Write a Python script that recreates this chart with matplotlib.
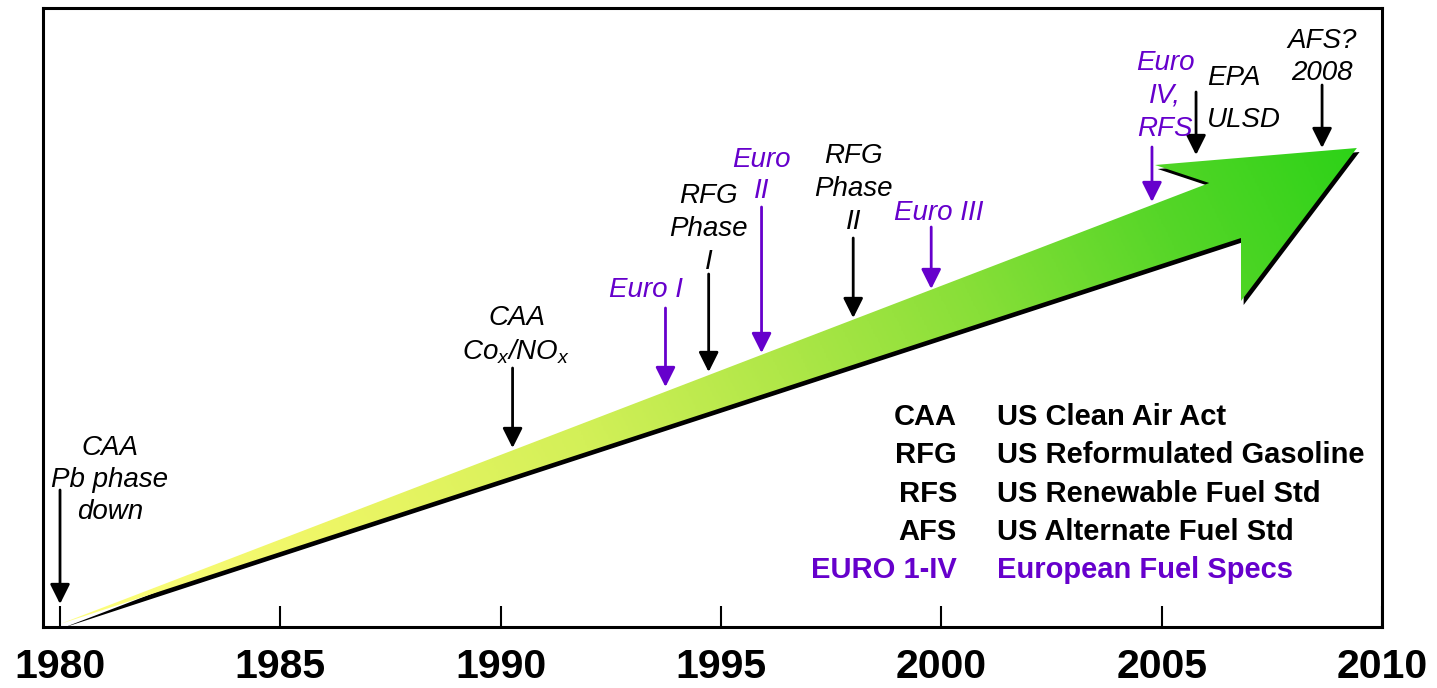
import numpy as np
import matplotlib.pyplot as plt
from matplotlib.colors import LinearSegmentedColormap
from matplotlib.patches import Polygon

plt.rcParams['font.family'] = ['Liberation Sans', 'DejaVu Sans']
plt.rcParams['mathtext.fontset'] = 'custom'
plt.rcParams['mathtext.rm'] = 'Liberation Sans:italic'
plt.rcParams['mathtext.it'] = 'Liberation Sans:italic'

PURPLE = '#6600cc'

# years on the axis
years = [1980, 1985, 1990, 1995, 2000, 2005, 2010]

# regulation events along the timeline
event_years = [1980.0, 1990.27, 1993.74, 1994.72, 1995.92, 1998.0, 1999.77, 2004.78, 2005.78, 2008.64]
event_labels = [['CAA', 'Pb phase', 'down'], ['CAA', 'Co$_x$/NO$_x$'], ['Euro I'],
                ['RFG', 'Phase', 'I'], ['Euro', 'II'], ['RFG', 'Phase', 'II'],
                ['Euro III'], ['Euro', 'IV,', 'RFS'], ['EPA', 'ULSD'], ['AFS?', '2008']]
event_is_euro = [False, False, True, False, True, False, True, True, False, False]

# abbreviations box
abbrevs = ['CAA', 'RFG', 'RFS', 'AFS', 'EURO 1-IV']
meanings = ['US Clean Air Act', 'US Reformulated Gasoline', 'US Renewable Fuel Std',
            'US Alternate Fuel Std', 'European Fuel Specs']

# outline of the big green arrow (year, height)
arrow_x = [1980.0, 2006.08, 2004.85, 2009.43, 2006.80, 2006.80]
arrow_y = [3, 444, 462, 479, 326, 389]

# layout of the small arrows and their labels
arrow_top = [137, 259, 319, 353, 420, 389, 400, 480, 535, 542]
arrow_tip = [23, 179, 240, 255, 274, 309, 338, 425, 472, 479]
label_x = [1981.13, 1990.36, 1993.29, 1994.72, 1995.92, 1998.0, 1999.95, 2005.08, 2006.03, 2008.64]
label_y = [172, 302, 330, 424, 460, 464, 407, 557, 542, 579]
line_gap = [32, 35, 0, 33, 31, 33, 0, 33, 42, 32]
label_ha = ['center'] * 8 + ['left', 'center']

fig = plt.figure(figsize=(14.37, 6.88), dpi=100)
ax = fig.add_axes([43 / 1437, 61 / 688, (1382 - 43) / 1437, (627 - 8) / 688])

# shadow then gradient arrow
pts = np.column_stack([arrow_x, arrow_y])
shadow = Polygon(pts + np.array([0.06, -4]), closed=True, facecolor='black', edgecolor='none', zorder=1)
ax.add_patch(shadow)
body = Polygon(pts, closed=True, facecolor='none', edgecolor='none', zorder=2)
ax.add_patch(body)

cmap = LinearSegmentedColormap.from_list('fuel', [
    (0.0, '#ffff80'), (0.2, '#eef666'), (0.4, '#d3f058'), (0.55, '#b0e748'),
    (0.7, '#88df38'), (0.85, '#56d628'), (1.0, '#2dd218')])
gx = np.linspace(1980, 2009.6, 600)
gy = np.linspace(0, 490, 300)
GX, GY = np.meshgrid(gx, gy)
t = ((GX - 1980) * 44.07 + 0.5 * GY) / (1298 + 0.5 * 479)
img = ax.imshow(t, extent=(1980, 2009.6, 0, 490), origin='lower', cmap=cmap, vmin=0, vmax=1,
                aspect='auto', interpolation='bilinear', zorder=2)
img.set_clip_path(body)

# event arrows and labels
for i, yr in enumerate(event_years):
    c = PURPLE if event_is_euro[i] else 'black'
    ax.annotate('', xy=(yr, arrow_tip[i]), xytext=(yr, arrow_top[i]),
                arrowprops=dict(arrowstyle='-|>', color=c, lw=2, mutation_scale=30,
                                shrinkA=0, shrinkB=0), zorder=4)
    for j, line in enumerate(event_labels[i]):
        ax.text(label_x[i], label_y[i] - j * line_gap[i], line, color=c, fontsize=20,
                fontstyle='italic', ha=label_ha[i], va='baseline', zorder=5)

# abbreviations
for k in range(len(abbrevs)):
    c = PURPLE if abbrevs[k].startswith('EURO') else 'black'
    h = 202 - k * 38.3
    ax.text(2000.354, h, abbrevs[k], color=c, fontsize=21, fontweight='bold', ha='right', va='baseline')
    ax.text(2001.26, h, meanings[k], color=c, fontsize=21, fontweight='bold', ha='left', va='baseline')

ax.set_xlim(1979.614, 2010.0)
ax.set_ylim(0, 619)
ax.set_xticks(years)
ax.set_xticklabels([str(y) for y in years], fontsize=29.5, fontweight='bold')
ax.tick_params(axis='x', direction='in', length=15, width=1.5, pad=15)
ax.set_yticks([])
for s in ax.spines.values():
    s.set_linewidth(2.2)

fig.savefig('out.png', dpi=100)
